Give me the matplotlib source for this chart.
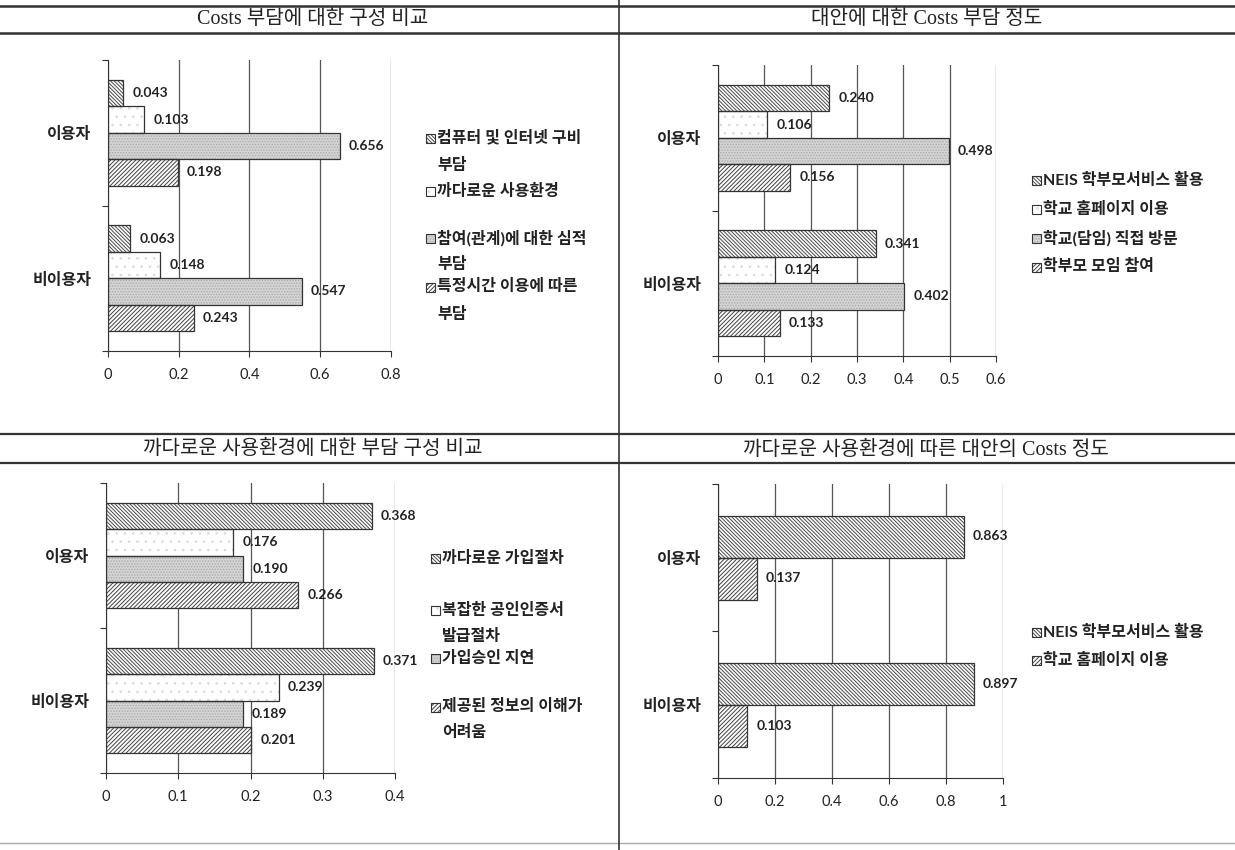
import matplotlib.pyplot as plt
from matplotlib.patches import Rectangle

plt.rcParams['hatch.linewidth'] = 0.7

KR = ['Noto Sans CJK KR', 'DejaVu Sans']
NUM = ['Lato', 'Noto Sans CJK KR']
SERIF = ['Liberation Serif', 'Noto Sans CJK KR']

categories = ['이용자', '비이용자']

# 패널 1
title1 = 'Costs 부담에 대한 구성 비교'
series1 = ['컴퓨터 및 인터넷 구비\n부담', '까다로운 사용환경',
           '참여(관계)에 대한 심적\n부담', '특정시간 이용에 따른\n부담']
users1 = [0.043, 0.103, 0.656, 0.198]
nonusers1 = [0.063, 0.148, 0.547, 0.243]
xticks1 = [0, 0.2, 0.4, 0.6, 0.8]

# 패널 2
title2 = '대안에 대한 Costs 부담 정도'
series2 = ['NEIS 학부모서비스 활용', '학교 홈페이지 이용', '학교(담임) 직접 방문', '학부모 모임 참여']
users2 = [0.240, 0.106, 0.498, 0.156]
nonusers2 = [0.341, 0.124, 0.402, 0.133]
xticks2 = [0, 0.1, 0.2, 0.3, 0.4, 0.5, 0.6]

# 패널 3
title3 = '까다로운 사용환경에 대한 부담 구성 비교'
series3 = ['까다로운 가입절차', '복잡한 공인인증서\n발급절차', '가입승인 지연',
           '제공된 정보의 이해가\n어려움']
users3 = [0.368, 0.176, 0.190, 0.266]
nonusers3 = [0.371, 0.239, 0.189, 0.201]
xticks3 = [0, 0.1, 0.2, 0.3, 0.4]

# 패널 4
title4 = '까다로운 사용환경에 따른 대안의 Costs 정도'
series4 = ['NEIS 학부모서비스 활용', '학교 홈페이지 이용']
users4 = [0.863, 0.137]
nonusers4 = [0.897, 0.103]
xticks4 = [0, 0.2, 0.4, 0.6, 0.8, 1]

# 막대 스타일 (흑백 인쇄 느낌)
STYLES = {
    'back': dict(face='white', hatch='\\' * 9, hcolor='#484848'),
    'dots': dict(face='white', hatch='..', hcolor='#dcdcdc'),
    'gray': dict(face='#d4d4d4', hatch='......', hcolor='#ababab'),
    'fwd': dict(face='white', hatch='/' * 8, hcolor='#404040'),
}
four = ['back', 'dots', 'gray', 'fwd']
two = ['back', 'fwd']

W, H = 1235, 850
fig = plt.figure(figsize=(W / 100, H / 100), dpi=100)

# 배경 (표 선, 제목, 범례) - 픽셀 좌표
bg = fig.add_axes([0, 0, 1, 1], zorder=-1)
bg.set_xlim(0, W)
bg.set_ylim(H, 0)
bg.axis('off')

for y, lw, col in [(6, 1.8, '#333'), (33, 1.8, '#333'), (434, 1.6, '#333'),
                   (463, 1.6, '#333'), (843, 1.0, '#aaa')]:
    bg.plot([0, W], [y, y], color=col, lw=lw)
bg.plot([619, 619], [0, H], color='#333', lw=1.2)

for x, y, t in [(313, 19, title1), (927, 19, title2), (313, 449, title3), (926, 450, title4)]:
    bg.text(x, y, t, ha='center', va='center', fontsize=14.5, family=SERIF, color='#222')


def px_rect(x0, x1, ytop, ybot):
    return [x0 / W, 1 - ybot / H, (x1 - x0) / W, (ybot - ytop) / H]


def draw_panel(rect, users, nonusers, xticks, styles):
    ax = fig.add_axes(rect)
    n = len(users)
    h = 1 / (n + 1.5)
    for c, vals in zip([1.5, 0.5], [users, nonusers]):
        for i, v in enumerate(vals):
            y = c + (n / 2 - i - 0.5) * h
            st = STYLES[styles[i]]
            ax.barh(y, v, height=h, color=st['face'], hatch=st['hatch'],
                    edgecolor=st['hcolor'], linewidth=0, zorder=2)
            ax.barh(y, v, height=h, fill=False, edgecolor='#333', linewidth=0.9, zorder=3)
            ax.annotate(f'{v:.3f}', (v, y), xytext=(6.5, 0), textcoords='offset points',
                        va='center', ha='left', fontsize=10, fontweight='bold',
                        family=NUM, color='#222')
    ax.set_xlim(0, xticks[-1])
    ax.set_ylim(0, 2)
    ax.set_xticks(xticks)
    ax.set_xticklabels([f'{t:g}' for t in xticks], fontsize=10.5, family=NUM, color='#222')
    ax.set_yticks([0, 1, 2])
    ax.set_yticklabels([])
    ax.set_yticks([0.5, 1.5], minor=True)
    ax.set_yticklabels(categories[::-1], minor=True, fontsize=11.5, fontweight='bold',
                       family=KR, color='#222')
    ax.tick_params(axis='y', which='minor', length=0, pad=12)
    ax.tick_params(axis='both', which='major', length=4, color='#333')
    ax.tick_params(axis='x', pad=8)
    ax.grid(axis='x', color='#555', lw=0.9)
    ax.set_axisbelow(True)
    for s in ['top', 'right']:
        ax.spines[s].set_visible(False)
    for s in ['left', 'bottom']:
        ax.spines[s].set_color('#333')
    return ax


def draw_legend(x, ys, labels, styles, step=27):
    for y0, lab, sname in zip(ys, labels, styles):
        st = STYLES[sname]
        bg.add_patch(Rectangle((x, y0 - 4.5), 9, 9, facecolor=st['face'], hatch=st['hatch'],
                               edgecolor=st['hcolor'], lw=0))
        bg.add_patch(Rectangle((x, y0 - 4.5), 9, 9, fill=False, edgecolor='#333', lw=0.8))
        for k, line in enumerate(lab.split('\n')):
            bg.text(x + 11, y0 + k * step, line, va='center', ha='left', fontsize=11.5,
                    fontweight='bold', family=NUM, color='#222')


draw_panel(px_rect(108, 391, 60, 351), users1, nonusers1, xticks1, four)
draw_panel(px_rect(718, 996, 65, 356), users2, nonusers2, xticks2, four)
draw_panel(px_rect(106, 395, 483, 773), users3, nonusers3, xticks3, four)
draw_panel(px_rect(718, 1003, 484, 778), users4, nonusers4, xticks4, two)

draw_legend(426, [138, 191, 238, 287], series1, four)
draw_legend(1032, [180, 209, 238, 267], series2, four, step=29)
draw_legend(431, [558, 610, 658, 707], series3, four, step=26)
draw_legend(1032, [632, 660], series4, two)

fig.savefig('out.png', dpi=100)
